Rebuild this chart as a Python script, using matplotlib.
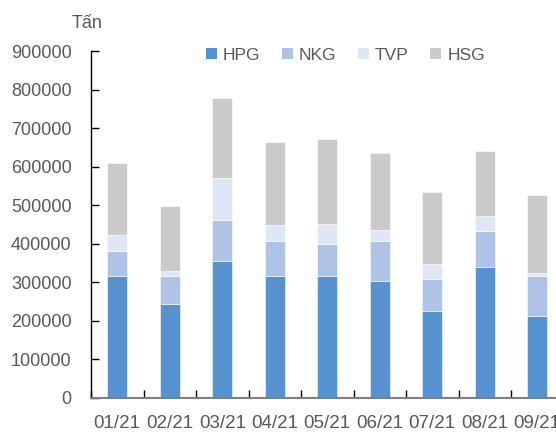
import matplotlib

matplotlib.use("Agg")
import matplotlib.pyplot as plt  # noqa: E402
import numpy as np  # noqa: E402
from matplotlib.patches import Patch  # noqa: E402

months = ["01/21", "02/21", "03/21", "04/21", "05/21", "06/21", "07/21", "08/21", "09/21"]
hpg = [316000, 244000, 357000, 317000, 318000, 305000, 227000, 341000, 214000]
nkg = [67000, 72000, 104000, 90000, 83000, 102000, 83000, 92000, 104000]
tvp = [41000, 15000, 109000, 42000, 50000, 28000, 37000, 40000, 7000]
hsg = [185000, 168000, 210000, 216000, 222000, 200000, 188000, 168000, 202000]
series = [("HPG", hpg), ("NKG", nkg), ("TVP", tvp), ("HSG", hsg)]
colors = ["#5592cf", "#aec3e6", "#dfe7f6", "#cbcbcb"]
y_ticks = list(range(0, 900001, 100000))

TEXT = "#595959"
plt.rcParams["font.family"] = ["Liberation Sans", "DejaVu Sans"]

W, H = 556, 433
fig = plt.figure(figsize=(W / 100, H / 100), dpi=100)
ax = fig.add_axes([91 / W, 35 / H, 472.5 / W, 346.6 / H])

x = np.arange(len(months))
bottom = np.zeros(len(months))
for (name, vals), c in zip(series, colors):
    ax.bar(x, vals, width=0.38, bottom=bottom, color=c, edgecolor="white",
           linewidth=0.4, label=name, zorder=2)
    bottom += np.array(vals)

ax.set_xlim(-0.5, len(months) - 0.5)
ax.set_ylim(0, 900000)
ax.set_yticks(y_ticks)
ax.set_yticklabels([str(v) for v in y_ticks])
ax.set_xticks(x)
ax.set_xticklabels(months)
ax.set_xticks(np.arange(len(months) + 1) - 0.5, minor=True)

ax.tick_params(axis="y", direction="in", length=6, width=1, color="black",
               labelsize=13, labelcolor=TEXT, pad=14)
ax.tick_params(axis="x", which="major", length=0, labelsize=13.5,
               labelcolor=TEXT, pad=12)
ax.tick_params(axis="x", which="minor", direction="in", length=6, width=1,
               color="black")

for side in ("top", "right"):
    ax.spines[side].set_visible(False)
ax.spines["left"].set_color("black")
ax.spines["left"].set_linewidth(1)
ax.spines["bottom"].set_color("#7f7f7f")
ax.spines["bottom"].set_linewidth(1.5)

handles = [Patch(facecolor=c, edgecolor="none") for c in colors]
fig.legend(handles, [s[0] for s in series], loc="center left",
           bbox_to_anchor=(206 / W, 1 - 55 / H), ncol=4, frameon=False,
           fontsize=12.5, labelcolor=TEXT, handlelength=0.62, handleheight=0.62,
           handletextpad=0.35, columnspacing=1.25, borderpad=0, borderaxespad=0)

fig.text(87 / W, 1 - 28.5 / H, "Tấn", ha="center", va="baseline",
         fontsize=13, color=TEXT)

fig.savefig("out.png", dpi=100)
